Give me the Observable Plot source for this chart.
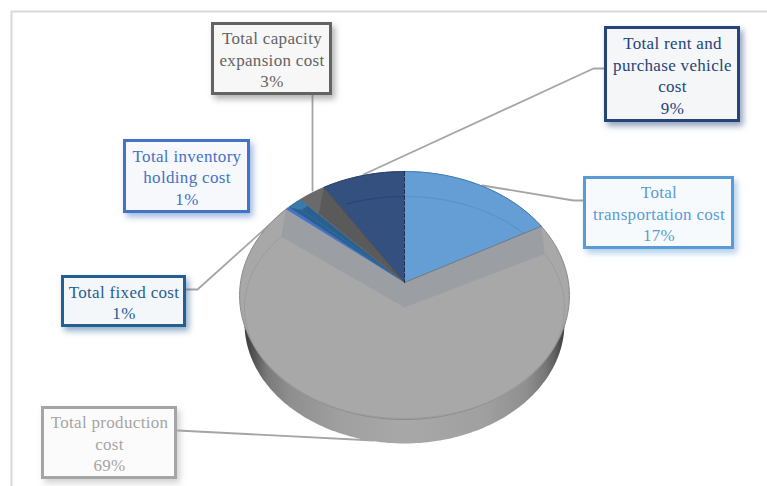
<!DOCTYPE html>
<html lang="en">
<head>
<meta charset="utf-8">
<title>Total cost breakdown</title>
<script src="https://cdn.jsdelivr.net/npm/d3@7"></script>
<script src="https://cdn.jsdelivr.net/npm/@observablehq/plot@0.6"></script>
<style>
  html, body { margin: 0; padding: 0; background: #fff; overflow: hidden; }
  svg { display: block; }
  svg text { letter-spacing: 0.32px; }
</style>
</head>
<body>
<div id="chart"></div>
<script>
// Cost categories in clockwise order from twelve o'clock, with their shares in percent.
const categories = [
  "Total\ntransportation cost",
  "Total production\ncost",
  "Total inventory\nholding cost",
  "Total fixed cost",
  "Total capacity\nexpansion cost",
  "Total rent and\npurchase vehicle\ncost"
];
const shares = [17, 69, 1, 1, 3, 9];
const sliceColors = ["#659dd5", "#a8a8a8", "#4472c4", "#28618f", "#6a6a6a", "#34507f"];
const borderColors = ["#5b9bd5", "#a5a5a5", "#4472c4", "#255e91", "#636363", "#264478"];

// Callout boxes, in page units: left, right, top, bottom.
const boxes = [
  [583, 734, 176, 249],
  [41, 177, 406, 479],
  [123, 250, 139, 213],
  [61, 186, 275, 327],
  [211, 332, 22, 95],
  [604, 740, 26, 122]
];
// Leader line routes from each box to its slice.
const leaders = [
  [[583, 200], [573, 200], [482, 185]],
  [[177, 430], [373, 440]],
  [],
  [[186, 289], [197, 289], [287, 208]],
  [[312, 95], [312, 190]],
  [[604, 68], [593, 68], [363, 174]]
];

// Tilted disc: a perspective view of the unit circle for the top face,
// a nearly flat ellipse for the floor seen through it.
const cx = 404, apexY = 282, R = 164, c = 122.6, k = 0.105;
const rimPt = (a, r = 1) => {
  const u = r * Math.sin(a), v = r * Math.cos(a), w = 1 + k * v;
  return {x: cx + R * u / w, y: apexY - c * v / w};
};
const floorPt = (a, r = 1) => ({x: cx + 160 * r * Math.sin(a), y: 307 - 111 * r * Math.cos(a)});
const underPt = (a) => {
  const p = rimPt(a);
  return {x: cx + 0.97 * (p.x - cx), y: apexY + 28.1 + 0.97 * (p.y - apexY)};
};
const arc = (fn, a0, a1) => {
  const n = Math.max(2, Math.ceil(Math.abs(a1 - a0) / 0.02));
  return d3.range(n + 1).map((i) => fn(a0 + (a1 - a0) * i / n));
};

// Slice angles, accumulated from the shares.
const total = d3.sum(shares);
const cumulative = d3.cumsum(shares);
const angle0 = shares.map((_, i) => (i ? cumulative[i - 1] : 0) / total * 2 * Math.PI);
const angle1 = shares.map((_, i) => cumulative[i] / total * 2 * Math.PI);

const poly = (points, options) =>
  Plot.line(points, {x: "x", y: "y", curve: "linear-closed", stroke: "none", ...options});
const path = (points, options) =>
  Plot.line(points, {x: "x", y: "y", ...options});

const apex = {x: cx, y: apexY};
const floorApex = {x: cx, y: 307};
const TWO_PI = 2 * Math.PI;

// Side wall shading, dark only close to both ends of the disc.
const wallGradient = () => {
  const defs = d3.create("svg:defs");
  const g = defs.append("linearGradient").attr("id", "wall");
  [[0, "#3a3a3a"], [0.03, "#555"], [0.07, "#7a7a7a"], [0.14, "#8e8e8e"], [0.3, "#a0a0a0"], [0.5, "#a8a8a8"],
   [0.75, "#a0a0a0"], [0.88, "#8f8f8f"], [0.94, "#777"], [0.975, "#5a5a5a"], [1, "#3c3c3c"]]
    .forEach(([o, col]) => g.append("stop").attr("offset", o).attr("stop-color", col));
  return defs.node();
};

const prod = 1, inventory = 2, fixed = 3, capacity = 4, rent = 5;
const upperSlices = shares.map((_, i) => i).filter((i) => i !== prod);

const marks = [
  wallGradient,
  // Chart frame
  Plot.ruleX([11], {y1: 11, y2: 486, stroke: "#d9d9d9", strokeWidth: 2}),
  Plot.ruleY([11], {x1: 11, x2: 767, stroke: "#d9d9d9", strokeWidth: 2}),

  // Leader lines sit beneath the disc
  ...leaders.filter((l) => l.length).map((l) =>
    path(l.map(([x, y]) => ({x, y})), {stroke: "#a5a5a5", strokeWidth: 1.8})),

  // Extruded body and the large slice's top face
  poly(arc(underPt, 0, TWO_PI), {fill: "url(#wall)"}),
  poly(arc(rimPt, 0, TWO_PI), {fill: sliceColors[prod], stroke: "#8a8a8a", strokeWidth: 1}),

  // Recess left by the smaller slices: inner wall of the large slice
  poly([apex, rimPt(angle0[prod]), floorPt(angle0[prod]), floorApex, floorPt(angle1[prod]), rimPt(angle1[prod])],
    {fill: "#9b9fa3"}),
  path(arc(floorPt, angle0[prod], angle1[prod]), {stroke: "#9c9c9c", strokeWidth: 1}),

  // Smaller slices on top
  ...upperSlices.map((i) =>
    poly([apex, ...arc(rimPt, angle0[i], angle1[i])], {fill: sliceColors[i]})),

  // Wall of the fixed-cost slice falling across its neighbour
  poly([apex, rimPt(angle0[fixed]), rimPt(angle0[fixed] - 0.035)], {fill: sliceColors[fixed]}),
  // Inner wall of the capacity slice
  poly([rimPt(angle1[capacity]), floorPt(angle1[capacity]), apex], {fill: "#5a5a5a"}),
  // Lighter cap across the two thinnest slices
  poly([...arc(rimPt, angle0[inventory] + 0.025, angle1[fixed]), rimPt(angle1[fixed], 0.92), rimPt(angle0[fixed], 0.92)],
    {fill: "#3a7aa9"}),

  // Floor rim seen through the slices
  path(arc(floorPt, angle0[rent] + 0.2, TWO_PI), {stroke: "#26457a", strokeWidth: 1.2}),
  path(arc(floorPt, 0, angle1[0] - 0.23), {stroke: "#5a92c9", strokeWidth: 1.2}),

  // Slice edges
  path(arc(rimPt, 0, angle1[0]), {stroke: "#3f7fc0", strokeWidth: 1}),
  path(arc(rimPt, angle0[rent], TWO_PI), {stroke: "#24406f", strokeWidth: 1}),
  path([rimPt(angle1[0]), apex], {stroke: "#6f7a85", strokeWidth: 1}),
  path([rimPt(angle0[rent]), apex], {stroke: "#4a4f58", strokeWidth: 1}),
  path([rimPt(0), apex], {stroke: "#1d2f52", strokeWidth: 1, strokeDasharray: "4 2"}),

  // Callouts, each with a shadow tinted like its border
  ...boxes.map((b, i) => {
    const shade = d3.color(borderColors[i]);
    shade.opacity = 0.5;
    return Plot.rect([b], {
      x1: (d) => d[0], x2: (d) => d[1], y1: (d) => d[2], y2: (d) => d[3],
      inset: 1.5,
      fill: d3.interpolateRgb("#ffffff", borderColors[i])(0.05),
      stroke: borderColors[i],
      strokeWidth: 3,
      imageFilter: `drop-shadow(3px 4px 3px ${shade.formatRgb()})`
    });
  }),
  ...categories.map((name, i) =>
    Plot.text([`${name}\n${shares[i]}%`], {
      x: (boxes[i][0] + boxes[i][1]) / 2,
      y: (boxes[i][2] + boxes[i][3]) / 2,
      text: (d) => d,
      fill: borderColors[i],
      fontFamily: "Liberation Serif",
      fontSize: 17,
      lineHeight: 1.265,
      textAnchor: "middle",
      lineAnchor: "middle"
    }))
];

const chart = Plot.plot({
  width: 767,
  height: 486,
  margin: 0,
  x: {domain: [0, 767], range: [0, 767], axis: null},
  y: {domain: [0, 486], range: [0, 486], axis: null},
  style: {background: "#ffffff"},
  marks
});
document.getElementById("chart").appendChild(chart);
</script>
</body>
</html>
